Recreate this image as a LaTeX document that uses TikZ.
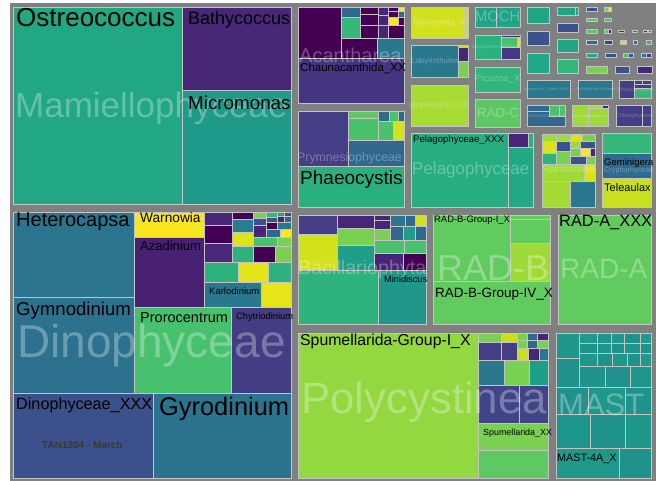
\documentclass[tikz,border=0pt]{standalone}
\usepackage{fontspec}
\setmainfont{Liberation Sans}
\definecolor{bgray}{HTML}{808080}
\definecolor{cline}{HTML}{C4C4C4}
\definecolor{tanc}{HTML}{3A3A2C}
\newcommand{\tmc}[5]{\definecolor{tmcfill}{HTML}{#5}\path[fill=tmcfill,draw=cline,line width=0.6pt] (#1,#2) rectangle (#3,#4);}
\newcommand{\fs}[1]{\fontsize{#1}{#1}\selectfont}
\tikzset{
  lab/.style={inner sep=0pt, anchor=base west, text=black},
  fad/.style={inner sep=0pt, anchor=base west, text=white, text opacity=0.3},
}
\begin{document}
\begin{tikzpicture}[x=1pt,y=-1pt]
\useasboundingbox (0,0) rectangle (656,481);
\fill[white] (0,0) rectangle (656,481);
\fill[bgray] (10,3) rectangle (656,481);
% ---------------- Mamiellophyceae
\tmc{13}{7}{182}{204}{22A785}
\tmc{182}{7}{291}{90}{472776}
\tmc{182}{90}{291}{204}{1F9A8A}
% ---------------- Dinophyceae
\tmc{13}{212}{134}{297}{2B758E}
\tmc{13}{297}{134}{393}{2C728E}
\tmc{134}{212}{204}{237}{F8E621}
\tmc{134}{237}{204}{307}{482173}
\tmc{204}{212}{232}{225}{482677}
\tmc{204}{225}{232}{243}{440154}
\tmc{204}{243}{232}{262}{482878}
\tmc{232}{212}{253}{219}{440154}
\tmc{232}{219}{253}{232}{287D8E}
\tmc{232}{232}{253}{246}{DCE319}
\tmc{232}{246}{253}{262}{2DB27D}
\tmc{253}{212}{266}{218}{7AD151}
\tmc{253}{218}{266}{225}{3B528B}
\tmc{253}{225}{266}{237}{482677}
\tmc{266}{212}{277}{217}{35B779}
\tmc{266}{217}{277}{222}{3B528B}
\tmc{266}{222}{277}{229}{440154}
\tmc{277}{212}{284}{216}{21A685}
\tmc{284}{212}{291}{216}{3B528B}
\tmc{277}{216}{284}{222}{482677}
\tmc{284}{216}{291}{222}{31688E}
\tmc{277}{222}{291}{229}{2A788E}
\tmc{266}{229}{280}{237}{31688E}
\tmc{280}{229}{291}{237}{FDE725}
\tmc{253}{237}{277}{246}{4AC16D}
\tmc{277}{237}{291}{246}{7AD151}
\tmc{253}{246}{275}{262}{440154}
\tmc{275}{246}{291}{262}{7AD151}
\tmc{204}{262}{238}{282}{2DB27D}
\tmc{238}{262}{268}{282}{E5E419}
\tmc{268}{262}{291}{282}{2DB27D}
\tmc{204}{282}{261}{307}{2A788E}
\tmc{261}{282}{291}{307}{E7E419}
\tmc{134}{307}{231}{393}{48C16E}
\tmc{231}{307}{291}{393}{433D84}
\tmc{13}{393}{153}{478}{3C508B}
\tmc{153}{393}{291}{478}{2C738E}
% ---------------- Acantharea
\tmc{298}{7}{341}{58}{440154}
\tmc{341}{7}{360}{17}{31688E}
\tmc{341}{17}{360}{38}{35B779}
\tmc{360}{7}{378}{14}{440154}
\tmc{360}{14}{378}{25}{440154}
\tmc{360}{25}{378}{38}{440154}
\tmc{378}{7}{388}{15}{482677}
\tmc{378}{15}{388}{25}{482677}
\tmc{378}{25}{388}{38}{482677}
\tmc{388}{7}{398}{11}{440154}
\tmc{398}{7}{404}{11}{FDE725}
\tmc{388}{11}{398}{17}{440154}
\tmc{398}{11}{404}{17}{31688E}
\tmc{388}{17}{398}{25}{FDE725}
\tmc{398}{17}{404}{25}{440154}
\tmc{388}{25}{404}{38}{440154}
\tmc{341}{38}{377}{58}{440154}
\tmc{377}{38}{404}{58}{2A788E}
\tmc{298}{58}{404}{103}{453581}
% ---------------- Prymnesiophyceae
\tmc{298}{111}{348}{166}{433E85}
\tmc{348}{111}{378}{118}{5EC962}
\tmc{348}{118}{378}{140}{4AC16D}
\tmc{378}{111}{389}{121}{31688E}
\tmc{389}{111}{398}{121}{4AC16D}
\tmc{398}{111}{404}{121}{31688E}
\tmc{378}{121}{393}{140}{4AC16D}
\tmc{393}{121}{404}{140}{D2E21B}
\tmc{348}{140}{404}{166}{31688E}
\tmc{298}{166}{404}{207}{2AB07F}
% ---------------- Telonemia, Labyrinthulea, Stramenopiles
\tmc{411}{7}{461}{38}{D1E21C}
\tmc{461}{7}{464}{38}{D1E21C}
\tmc{464}{7}{468}{38}{D1E21C}
\tmc{411}{45}{458}{77}{2A788E}
\tmc{458}{45}{468}{47}{D1E21C}
\tmc{458}{47}{468}{61}{482677}
\tmc{458}{61}{468}{77}{7AD151}
\tmc{411}{85}{468}{126}{A8DB34}
% ---------------- MOCH, Oligo, Picozoa, RAD-C
\tmc{475}{7}{496}{27}{20A386}
\tmc{496}{7}{520}{27}{20A386}
\tmc{475}{35}{501}{59}{2BB07F}
\tmc{501}{35}{520}{37}{482677}
\tmc{501}{37}{517}{47}{4AC16D}
\tmc{517}{37}{520}{47}{DCE319}
\tmc{501}{47}{520}{59}{453781}
\tmc{475}{67}{520}{92}{30B57A}
\tmc{475}{99}{520}{127}{5DC863}
% ---------------- small upper right
\tmc{527}{7}{549}{23}{21A685}
\tmc{527}{31}{549}{45}{3B528B}
\tmc{527}{53}{549}{73}{22A884}
\tmc{557}{7}{575}{15}{21A685}
\tmc{575}{7}{578}{15}{21A685}
\tmc{557}{23}{578}{32}{3B528B}
\tmc{557}{39}{578}{52}{21A685}
\tmc{557}{59}{578}{73}{35B779}
\tmc{586}{7}{597}{11}{3B528B}
\tmc{586}{18}{597}{21}{5EC962}
\tmc{586}{29}{597}{33}{5EC962}
\tmc{586}{40}{597}{44}{31688E}
\tmc{586}{53}{597}{57}{21A685}
\tmc{586}{66}{607}{73}{7AD151}
\tmc{604}{7}{608}{11}{7AD151}
\tmc{608}{7}{611}{11}{FDE725}
\tmc{604}{18}{611}{21}{4AC16D}
\tmc{604}{29}{608}{33}{5EC962}
\tmc{608}{29}{611}{33}{482677}
\tmc{604}{40}{612}{44}{433E85}
\tmc{605}{53}{616}{57}{3B528B}
\tmc{615}{66}{629}{73}{3B528B}
\tmc{620}{40}{626}{44}{DCE319}
\tmc{623}{53}{628}{57}{4AC16D}
\tmc{628}{53}{633}{57}{3B528B}
\tmc{637}{66}{652}{73}{482677}
\tmc{633}{40}{637}{44}{2A788E}
\tmc{646}{40}{651}{44}{35B779}
\tmc{641}{53}{646}{57}{2A788E}
\tmc{646}{53}{651}{57}{433E85}
\tmc{618}{30}{624}{32}{482677}
\tmc{632}{30}{637}{32}{2A788E}
\tmc{643}{30}{647}{32}{482677}
\tmc{648}{30}{651}{32}{2A788E}
\tmc{527}{80}{570}{98}{2A788E}
\tmc{578}{80}{612}{98}{2A788E}
\tmc{619}{80}{634}{98}{433E85}
\tmc{634}{80}{642}{84}{433E85}
\tmc{642}{80}{651}{84}{433E85}
\tmc{634}{84}{651}{88}{433E85}
\tmc{634}{88}{651}{98}{35B779}
\tmc{527}{105}{549}{111}{31688E}
\tmc{527}{111}{565}{126}{31688E}
\tmc{549}{105}{559}{116}{4AC16D}
\tmc{559}{105}{565}{116}{4AC16D}
\tmc{572}{105}{588}{126}{A0DA39}
\tmc{588}{108}{608}{126}{A0DA39}
\tmc{588}{105}{602}{108}{A0DA39}
\tmc{602}{105}{608}{108}{482677}
\tmc{616}{105}{642}{126}{433E85}
\tmc{642}{105}{651}{126}{433E85}
% ---------------- Pelagophyceae
\tmc{411}{133}{508}{207}{27AD81}
\tmc{508}{133}{528}{147}{482677}
\tmc{528}{133}{533}{147}{2BB07F}
\tmc{508}{147}{533}{207}{22A884}
% ---------------- Spirotrichea
\tmc{542}{181}{570}{207}{A5DB36}
\tmc{570}{181}{595}{207}{2A788E}
\tmc{542}{164}{584}{181}{A0DA39}
\tmc{584}{164}{595}{181}{DCE319}
\tmc{542}{134}{556}{141}{A0DA39}
\tmc{542}{141}{556}{153}{DCE319}
\tmc{542}{153}{556}{164}{2DB27D}
\tmc{556}{134}{570}{141}{A0DA39}
\tmc{556}{141}{570}{151}{3B528B}
\tmc{556}{151}{570}{164}{7AD151}
\tmc{570}{134}{582}{141}{DCE319}
\tmc{582}{134}{595}{141}{7AD151}
\tmc{570}{141}{580}{148}{A0DA39}
\tmc{580}{141}{595}{148}{3B528B}
\tmc{570}{148}{580}{156}{7AD151}
\tmc{580}{148}{590}{156}{FDE725}
\tmc{590}{148}{595}{156}{482677}
\tmc{570}{156}{586}{164}{3B528B}
\tmc{586}{156}{595}{164}{7AD151}
% ---------------- Cryptophyceae
\tmc{602}{133}{651}{153}{35B779}
\tmc{602}{153}{651}{178}{2F6B8E}
\tmc{602}{178}{651}{207}{C8E020}
% ---------------- Bacillariophyta
\tmc{298}{215}{337}{234}{433E85}
\tmc{298}{234}{337}{270}{D2E21B}
\tmc{337}{215}{374}{228}{482677}
\tmc{337}{228}{374}{245}{7AD151}
\tmc{337}{245}{374}{270}{1F9E89}
\tmc{374}{215}{390}{220}{482677}
\tmc{374}{220}{390}{229}{482677}
\tmc{374}{229}{390}{240}{7AD151}
\tmc{390}{215}{405}{226}{2A788E}
\tmc{405}{215}{415}{226}{31688E}
\tmc{415}{215}{426}{226}{D2E21B}
\tmc{390}{226}{403}{240}{31688E}
\tmc{403}{226}{415}{240}{1F9E89}
\tmc{415}{226}{426}{240}{31688E}
\tmc{374}{240}{404}{253}{4AC16D}
\tmc{404}{240}{426}{253}{4AC16D}
\tmc{374}{253}{403}{270}{482677}
\tmc{403}{253}{426}{270}{440154}
\tmc{298}{270}{378}{324}{2EB37C}
\tmc{378}{270}{426}{324}{1F988B}
% ---------------- RAD-B
\tmc{433}{215}{510}{281}{62CB5F}
\tmc{510}{215}{550}{219}{62CB5F}
\tmc{510}{219}{550}{243}{62CB5F}
\tmc{510}{243}{550}{281}{A0DA39}
\tmc{433}{281}{550}{324}{62CB5F}
% ---------------- RAD-A
\tmc{558}{215}{651}{324}{62CB5F}
% ---------------- Polycystinea
\tmc{298}{333}{478}{478}{93D741}
\tmc{478}{333}{501}{342}{7AD151}
\tmc{501}{333}{517}{342}{C8E020}
\tmc{478}{342}{501}{360}{433E85}
\tmc{501}{342}{517}{360}{433E85}
\tmc{517}{333}{527}{340}{7AD151}
\tmc{517}{340}{527}{348}{7AD151}
\tmc{527}{333}{537}{340}{31688E}
\tmc{527}{340}{537}{348}{31688E}
\tmc{537}{333}{548}{340}{482677}
\tmc{537}{340}{548}{348}{7AD151}
\tmc{517}{348}{528}{360}{C8E020}
\tmc{528}{348}{539}{360}{482677}
\tmc{539}{348}{548}{360}{2A788E}
\tmc{478}{360}{504}{385}{2A788E}
\tmc{504}{360}{529}{385}{7AD151}
\tmc{529}{360}{548}{385}{1F9E89}
\tmc{478}{385}{519}{423}{414487}
\tmc{519}{385}{548}{423}{414487}
\tmc{478}{423}{548}{450}{7AD151}
\tmc{478}{450}{548}{478}{5EC962}
% ---------------- MAST
\tmc{556}{333}{579}{358}{1F978B}
\tmc{556}{358}{579}{387}{20928C}
\tmc{579}{333}{597}{343}{1F998A}
\tmc{597}{333}{611}{343}{20938C}
\tmc{611}{333}{624}{343}{1F988B}
\tmc{624}{333}{640}{343}{21918C}
\tmc{640}{333}{651}{343}{1F9A8A}
\tmc{579}{343}{597}{353}{20928C}
\tmc{597}{343}{611}{353}{1F968B}
\tmc{611}{343}{624}{353}{21918C}
\tmc{624}{343}{640}{353}{1F988B}
\tmc{640}{343}{651}{353}{20928C}
\tmc{579}{353}{597}{366}{1F988B}
\tmc{597}{353}{612}{366}{21918C}
\tmc{612}{353}{627}{366}{1F978B}
\tmc{627}{353}{640}{366}{20928C}
\tmc{640}{353}{651}{366}{1F9A8A}
\tmc{579}{366}{605}{387}{20938C}
\tmc{605}{366}{630}{387}{21908C}
\tmc{630}{366}{651}{387}{1F968B}
\tmc{556}{387}{588}{414}{21918C}
\tmc{588}{387}{625}{414}{1F988B}
\tmc{625}{387}{651}{414}{20928C}
\tmc{556}{414}{590}{448}{1F968B}
\tmc{590}{414}{625}{448}{21918C}
\tmc{625}{414}{651}{448}{1F988B}
\tmc{556}{448}{619}{478}{1F998A}
\tmc{619}{448}{651}{478}{20928C}
% ================= faded group labels
\node[fad,font=\fs{35}] (fMam) at (15,118) {Mamiellophyceae};
\node[fad,font=\fs{46}] (fDin) at (17,357) {Dinophyceae};
\node[fad,font=\fs{20}] (fAca) at (299,63) {Acantharea};
\node[fad,font=\fs{12.3}] (fPry) at (297,162) {Prymnesiophyceae};
\node[fad,font=\fs{9.3}] (fTel) at (412,26) {Telonemia\_X};
\node[fad,font=\fs{7.9}] (fLab) at (411,64) {Labyrinthulea};
\node[fad,font=\fs{7.1}] (fStr) at (409,108) {Stramenopiles\_XX};
\node[fad,font=\fs{14.7}] (fMOC) at (475,22) {MOCH};
\node[fad,font=\fs{5}] (fOli) at (472,49) {Oligohymenophorea};
\node[fad,font=\fs{9.4}] (fPic) at (475,82) {Picozoa\_X};
\node[fad,font=\fs{13.3}] (fRAC) at (477,118) {RAD-C};
\node[fad,font=\fs{17}] (fPel) at (412,175) {Pelagophyceae};
\node[fad,font=\fs{10}] (fSpi) at (542,173) {Spirotrichea};
\node[fad,font=\fs{7.3}] (fCry) at (604,173) {Cryptophyceae};
\node[fad,font=\fs{3.8}] (fHap) at (525,91) {Haptophyta\_Clade\_HAP4};
\node[fad,font=\fs{4.2}] (fKat) at (577,91) {Katablepharidaceae};
\node[fad,font=\fs{5.3}] (fChr) at (617,92) {Chrysophyceae};
\node[fad,font=\fs{4.7}] (fDic) at (527,118) {Dictyochophyceae};
\node[fad,font=\fs{4.3}] (fCho) at (572,118) {Choanoflagellatea};
\node[fad,font=\fs{5.5}] (fChl) at (616,118) {Chlorophyceae};
\node[fad,font=\fs{19.7}] (fBac) at (298,274) {Bacillariophyta};
\node[fad,font=\fs{36}] (fRAB) at (437,280) {RAD-B};
\node[fad,font=\fs{28}] (fRAA) at (560,279) {RAD-A};
\node[fad,font=\fs{43.8}] (fPol) at (301,413) {Polycystinea};
\node[fad,font=\fs{31}] (fMAS) at (558,415) {MAST};
% ================= labels
\node[lab,font=\fs{26}] (lOst) at (16,27) {Ostreococcus};
\node[lab,font=\fs{18}] (lBat) at (188,25) {Bathycoccus};
\node[lab,font=\fs{18.8}] (lMic) at (188,110) {Micromonas};
\node[lab,font=\fs{20}] (lHet) at (16,227) {Heterocapsa};
\node[lab,font=\fs{18.6}] (lGym) at (16,315) {Gymnodinium};
\node[lab,font=\fs{13.7}] (lWar) at (140,223) {Warnowia};
\node[lab,font=\fs{13}] (lAza) at (140,251) {Azadinium};
\node[lab,font=\fs{9.5}] (lKar) at (209,294) {Karlodinium};
\node[lab,font=\fs{14.5}] (lPro) at (140,322) {Prorocentrum};
\node[lab,font=\fs{9.3}] (lChy) at (236,319) {Chytriodinium};
\node[lab,font=\fs{16.2}] (lDXX) at (16,409) {Dinophyceae\_XXX};
\node[lab,font=\fs{25.4}] (lGyr) at (159,415) {Gyrodinium};
\node[inner sep=0pt,anchor=base west,text=tanc,font=\fs{10}\bfseries] (lTAN) at (42,448) {TAN1204 - March};
\node[lab,font=\fs{11.5}] (lCha) at (300,72) {Chaunacanthida\_XX};
\node[lab,font=\fs{19}] (lPha) at (300,185) {Phaeocystis};
\node[lab,font=\fs{9.6}] (lPXX) at (413,143) {Pelagophyceae\_XXX};
\node[lab,font=\fs{9.5}] (lGem) at (604,166) {Geminigera};
\node[lab,font=\fs{11}] (lTel) at (604,192) {Teleaulax};
\node[lab,font=\fs{9.2}] (lMin) at (384,282) {Minidiscus};
\node[lab,font=\fs{9.4}] (lRB1) at (434,223) {RAD-B-Group-I\_X};
\node[lab,font=\fs{13.5}] (lRB4) at (435,297) {RAD-B-Group-IV\_X};
\node[lab,font=\fs{16.4}] (lRAX) at (559,227) {RAD-A\_XXX};
\node[lab,font=\fs{15.8}] (lSG1) at (300,345) {Spumellarida-Group-I\_X};
\node[lab,font=\fs{8.9}] (lSXX) at (483,435) {Spumellarida\_XX};
\node[lab,font=\fs{10.8}] (lM4A) at (557,461) {MAST-4A\_X};
\end{tikzpicture}
\end{document}
